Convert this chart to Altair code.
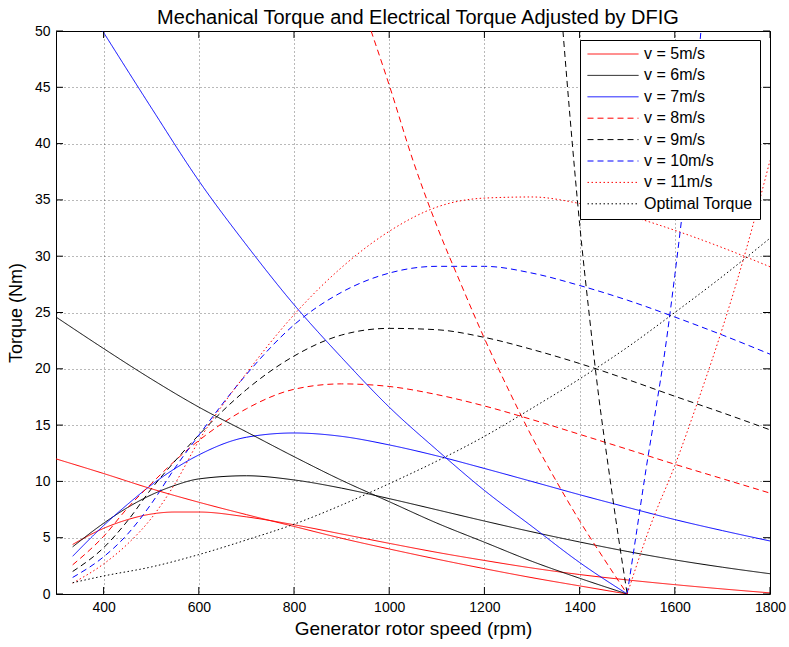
import altair as alt
import pandas as pd

# ---------------- data ----------------
labels = ["v = 5m/s", "v = 6m/s", "v = 7m/s", "v = 8m/s", "v = 9m/s",
          "v = 10m/s", "v = 11m/s", "Optimal Torque"]
colors = ["#ff0000", "#000000", "#0000ff", "#ff0000", "#000000",
          "#0000ff", "#ff0000", "#000000"]
dashes = [[1, 0], [1, 0], [1, 0], [6, 4], [6, 4], [6, 4], [1.5, 2.5], [1.5, 2.5]]

# mechanical torque curves
speed_mech = [335, 400, 450, 500, 550, 600, 700, 800, 900, 1000, 1100, 1200,
              1300, 1400, 1500, 1600, 1700, 1800]
tm_v5 = [4.40, 5.83, 6.60, 7.10, 7.28, 7.28, 6.85, 6.15, 5.33, 4.50, 3.70, 2.98,
         2.31, 1.73, 1.25, 0.83, 0.45, 0.10]
tm_v6 = [4.19, 6.28, 7.67, 8.80, 9.65, 10.22, 10.50, 10.13, 9.40, 8.47, 7.48, 6.48,
         5.52, 4.62, 3.78, 3.03, 2.38, 1.80]
tm_v7 = [3.35, 6.08, 7.95, 9.67, 11.14, 12.35, 13.92, 14.30, 14.00, 13.24, 12.27, 11.15,
         9.99, 8.82, 7.70, 6.61, 5.63, 4.71]
tm_v8 = [2.59, 5.12, 7.62, 9.79, 11.83, 13.63, 16.45, 18.18, 18.66, 18.43, 17.71, 16.70,
         15.49, 14.18, 12.86, 11.52, 10.24, 8.96]
tm_v9 = [2.00, 4.11, 6.48, 9.32, 11.81, 14.12, 18.15, 21.13, 23.00, 23.59, 23.47, 22.79,
         21.72, 20.47, 19.06, 17.56, 16.10, 14.58]
tm_v10 = [1.47, 3.30, 5.30, 8.00, 11.20, 14.10, 19.50, 23.90, 26.80, 28.50, 29.10, 29.10,
          28.50, 27.40, 26.10, 24.60, 23.00, 21.30]
tm_v11 = [0.97, 2.67, 4.43, 6.71, 9.80, 13.60, 19.60, 24.80, 29.00, 32.21, 34.36, 35.16,
          35.26, 34.68, 33.64, 32.30, 30.76, 29.06]

# electrical torque adjusted by DFIG
speed_e56 = [300, 400, 500, 600, 700, 800, 900, 1000, 1100, 1200, 1300, 1400, 1500]
te_v5 = [12.0, 10.7, 9.35, 8.15, 7.05, 6.0, 4.95, 4.0, 3.1, 2.25, 1.45, 0.72, 0.0]
te_v6 = [24.6, 21.8, 19.1, 16.6, 14.4, 12.2, 10.1, 8.2, 6.3, 4.6, 2.9, 1.4, 0.0]
speed_e7 = [398, 500, 600, 700, 800, 900, 1000, 1100, 1200, 1300, 1400, 1500]
te_v7 = [50.0, 43.2, 36.7, 31.0, 25.7, 21.0, 16.6, 12.8, 9.2, 6.0, 2.8, 0.0]
speed_e8 = [962, 1000, 1050, 1100, 1150, 1200, 1250, 1300, 1350, 1400, 1450, 1500]
te_v8 = [50.0, 45.2, 38.5, 32.7, 27.6, 22.7, 18.2, 13.95, 10.1, 6.5, 3.2, 0.0]
speed_e9 = [1365, 1380, 1400, 1420, 1440, 1460, 1480, 1500]
te_v9 = [50.0, 42.3, 32.9, 24.9, 17.6, 11.4, 5.5, 0.0]
speed_e10 = [1500, 1520, 1540, 1560, 1580, 1600, 1620, 1640, 1655]
te_v10 = [0.0, 5.6, 11.2, 16.4, 21.8, 28.3, 35.4, 43.5, 50.0]
speed_e11 = [1500, 1550, 1600, 1650, 1700, 1750, 1800]
te_v11 = [0.0, 6.2, 11.4, 17.3, 23.6, 30.6, 38.5]

# optimal torque
speed_opt = [335, 400, 500, 600, 700, 800, 900, 1000, 1100, 1200, 1300, 1400,
             1500, 1600, 1700, 1800]
t_opt = [1.0, 1.6, 2.4, 3.5, 4.8, 6.2, 7.9, 9.8, 11.8, 14.0, 16.5, 19.1,
         21.9, 25.0, 28.2, 31.6]

x_ticks = [400, 600, 800, 1000, 1200, 1400, 1600, 1800]
y_ticks = [0, 5, 10, 15, 20, 25, 30, 35, 40, 45, 50]

# ---------------- build table ----------------
series = [
    (labels[0], "mech", speed_mech, tm_v5), (labels[1], "mech", speed_mech, tm_v6),
    (labels[2], "mech", speed_mech, tm_v7), (labels[3], "mech", speed_mech, tm_v8),
    (labels[4], "mech", speed_mech, tm_v9), (labels[5], "mech", speed_mech, tm_v10),
    (labels[6], "mech", speed_mech, tm_v11),
    (labels[0], "elec", speed_e56, te_v5), (labels[1], "elec", speed_e56, te_v6),
    (labels[2], "elec", speed_e7, te_v7), (labels[3], "elec", speed_e8, te_v8),
    (labels[4], "elec", speed_e9, te_v9), (labels[5], "elec", speed_e10, te_v10),
    (labels[6], "elec", speed_e11, te_v11),
    (labels[7], "opt", speed_opt, t_opt),
]
rows = []
for lab, part, xs, ys in series:
    for a, b in zip(xs, ys):
        rows.append({"n": a, "T": b, "series": lab, "part": part})
df = pd.DataFrame(rows)

W, H = 714, 563
FONT = "Liberation Sans"

x_enc = alt.X("n:Q", title="Generator rotor speed (rpm)",
              scale=alt.Scale(domain=[300, 1800], nice=False, zero=False),
              axis=alt.Axis(values=x_ticks, format="d", grid=True, labelFlush=False,
                            labelPadding=6, titlePadding=5, titleFontSize=19))
y_enc = alt.Y("T:Q", title="Torque (Nm)",
              scale=alt.Scale(domain=[0, 50], nice=False, zero=False),
              axis=alt.Axis(values=y_ticks, format="d", grid=True, labelFlush=False,
                            labelPadding=6, titlePadding=9, titleFontSize=18))

leg = alt.Legend(title=None, orient="none", legendX=524, legendY=9,
                 strokeColor="#000", fillColor="#ffffff", padding=7,
                 symbolType="stroke", symbolSize=2601, symbolStrokeWidth=1,
                 clipHeight=14,
                 labelFont=FONT, labelFontSize=16, labelColor="#000",
                 rowPadding=5.4, labelOffset=5, cornerRadius=0)

lines = alt.Chart(df).mark_line(strokeWidth=1, clip=True, interpolate="monotone").encode(
    x=x_enc, y=y_enc,
    color=alt.Color("series:N", scale=alt.Scale(domain=labels, range=colors), legend=leg),
    strokeDash=alt.StrokeDash("series:N", scale=alt.Scale(domain=labels, range=dashes), legend=leg),
    detail="part:N",
)

xt = pd.DataFrame({"n": x_ticks})
yt = pd.DataFrame({"T": y_ticks})
TL = 7
tick_b = alt.Chart(xt).mark_rule(color="#000", strokeWidth=1).encode(
    x=x_enc, y=alt.value(H), y2=alt.value(H - TL))
tick_t = alt.Chart(xt).mark_rule(color="#000", strokeWidth=1).encode(
    x=x_enc, y=alt.value(0), y2=alt.value(TL))
tick_l = alt.Chart(yt).mark_rule(color="#000", strokeWidth=1).encode(
    y=y_enc, x=alt.value(0), x2=alt.value(TL))
tick_r = alt.Chart(yt).mark_rule(color="#000", strokeWidth=1).encode(
    y=y_enc, x=alt.value(W), x2=alt.value(W - TL))

chart = alt.layer(lines, tick_b, tick_t, tick_l, tick_r).properties(
    width=W, height=H,
    title=alt.TitleParams("Mechanical Torque and Electrical Torque Adjusted by DFIG",
                          font=FONT, fontSize=20, fontWeight="normal", color="#000",
                          anchor="middle", offset=0, dy=4, dx=5),
    autosize=alt.AutoSizeParams(type="none"),
    padding={"left": 56, "top": 31, "right": 19, "bottom": 53},
    background="#ffffff",
).configure_axis(
    domain=False, ticks=False, tickSize=0,
    gridColor="#000", gridDash=[1, 3], gridOpacity=0.55, gridWidth=1,
    labelFont=FONT, labelFontSize=14, labelColor="#000",
    titleFont=FONT, titleFontWeight="normal", titleColor="#000",
).configure_view(stroke="#000", strokeWidth=1)

chart.save("out.html", embed_options={"renderer": "svg", "actions": False})
